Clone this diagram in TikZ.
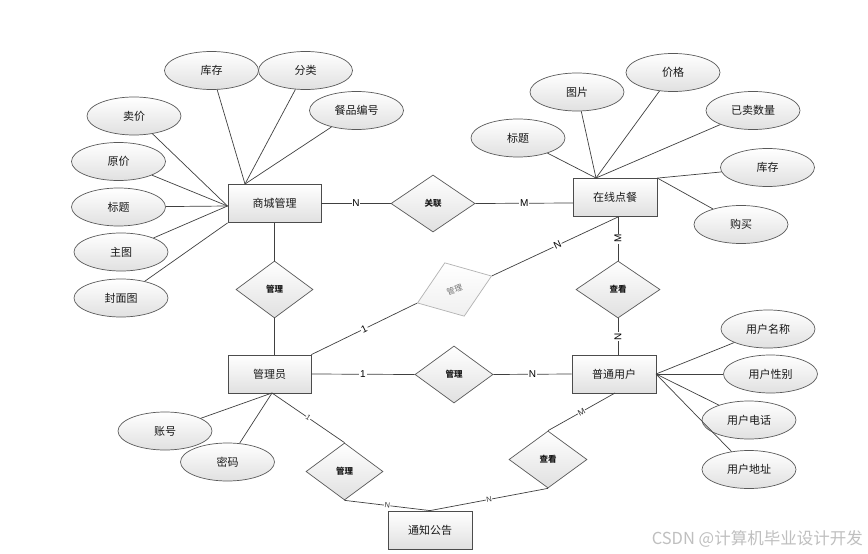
\documentclass[tikz,border=0pt]{standalone}
\usepackage{fontspec}
\setmainfont{Noto Sans CJK SC}
\newfontfamily\latinf{Liberation Sans}
\usetikzlibrary{shapes.geometric}
\begin{document}
\begin{tikzpicture}[x=1pt,y=-1pt,
 ent/.style={rectangle,draw=black!70,line width=0.8pt,top color=white,bottom color=black!12,minimum width=84pt,minimum height=38pt,inner sep=0pt,text=black!90,font=\fontsize{11}{13}\selectfont},
 attr/.style={ellipse,draw=black!65,line width=0.7pt,top color=white,bottom color=black!12,minimum width=94pt,minimum height=38pt,inner sep=0pt,text=black!90,font=\fontsize{11}{13}\selectfont},
 rel/.style={diamond,draw=black!65,line width=0.7pt,top color=white,bottom color=black!12,minimum width=78pt,minimum height=57pt,inner sep=0pt,text=black!90,font=\fontsize{8.5}{10}\selectfont\bfseries},
 grayrel/.style={rel,draw=black!30,text=black!55,top color=white,bottom color=black!6,font=\fontsize{8}{9}\selectfont},
 conn/.style={draw=black!75,line width=0.7pt},
 card/.style={fill=white,inner sep=0.8pt,text=black,font=\latinf\fontsize{10}{11}\selectfont},
 cards/.style={fill=white,inner sep=0.4pt,text=black!80,font=\latinf\fontsize{7.5}{8}\selectfont},
]
\useasboundingbox (0,0) rectangle (868,554);
\fill[white] (0,0) rectangle (868,554);

% entities
\node[ent,minimum width=93pt] (sc) at (274.5,203.5) {商城管理};
\node[ent] (zx) at (615,197.5) {在线点餐};
\node[ent,minimum width=83pt] (gly) at (269.5,374) {管理员};
\node[ent] (pt) at (614,374) {普通用户};
\node[ent] (tz) at (430,530) {通知公告};

% relationships
\node[rel,minimum width=84pt] (gx) at (433,203.5) {关联};
\node[rel,minimum width=77pt] (gl1) at (274.5,289.5) {管理};
\node[grayrel,minimum width=79pt,rotate=20] (glg) at (454.5,289.5) {管理};
\node[rel] (gl2) at (454,374.5) {管理};
\node[rel,minimum width=77pt] (gl3) at (344.5,471.5) {管理};
\node[rel,minimum width=84pt] (ck1) at (618,289.5) {查看};
\node[rel] (ck2) at (548,459.5) {查看};

% attributes of 商城管理
\node[attr] (kc1) at (211.5,70.5) {库存};
\node[attr] (fl) at (305.5,70.5) {分类};
\node[attr] (cp) at (356.5,110.5) {餐品编号};
\node[attr] (mj) at (134,116) {卖价};
\node[attr] (yj) at (118.5,161.5) {原价};
\node[attr] (bt1) at (118.5,207) {标题};
\node[attr] (zt) at (121,252) {主图};
\node[attr] (fmt) at (121,298) {封面图};

% attributes of 在线点餐
\node[attr] (tp) at (577,92) {图片};
\node[attr] (jg) at (673,72.5) {价格};
\node[attr] (ym) at (753,110.5) {已卖数量};
\node[attr] (bt2) at (518,138) {标题};
\node[attr] (kc2) at (767.5,167.5) {库存};
\node[attr] (gm) at (741,224.5) {购买};

% attributes of 管理员
\node[attr] (zh) at (165,431) {账号};
\node[attr] (mm) at (227.5,462) {密码};

% attributes of 普通用户
\node[attr] (yhmc) at (768,329) {用户名称};
\node[attr] (yhxb) at (770.5,374) {用户性别};
\node[attr] (yhdh) at (749,420) {用户电话};
\node[attr] (yhdz) at (749,469.5) {用户地址};

% connection points
\coordinate (scL) at (227.5,206);
\coordinate (scT) at (245,184);
\coordinate (zxT) at (596,178);
\coordinate (zxW) at (573,203);
\coordinate (zxB) at (618,217);
\coordinate (ptT) at (618,355);
\coordinate (ptB) at (615,393);
\coordinate (ptR) at (656,374);
\coordinate (glyT) at (274.5,355);
\coordinate (glyB) at (272,393);

% attribute lines
\draw[conn] (mj) -- (scL);
\draw[conn] (yj) -- (scL);
\draw[conn] (bt1) -- (scL);
\draw[conn] (zt) -- (scL);
\draw[conn] (fmt) -- (sc.south west);
\draw[conn] (kc1) -- (scT);
\draw[conn] (fl) -- (scT);
\draw[conn] (cp) -- (scT);

\draw[conn] (bt2) -- (zxT);
\draw[conn] (tp) -- (zxT);
\draw[conn] (jg) -- (zxT);
\draw[conn] (ym) -- (zxT);
\draw[conn] (kc2) -- (zx.north east);
\draw[conn] (gm) -- (zx.north east);

\draw[conn] (glyB) -- (zh);
\draw[conn] (glyB) -- (mm);

\draw[conn] (ptR) -- (yhmc);
\draw[conn] (ptR) -- (yhxb);
\draw[conn] (ptR) -- (yhdh);
\draw[conn] (ptR) -- (yhdz);

% relationship lines
\draw[conn] (sc.east) -- node[card]{N} (gx.west);
\draw[conn] (gx.east) -- node[card]{M} (zxW);
\draw[conn] (zxB) -- node[card,rotate=90]{M} (ck1.north);
\draw[conn] (zxB) -- node[card,sloped,pos=0.48]{N} (glg.east);
\draw[conn] (ck1.south) -- node[card,rotate=90]{N} (ptT);
\draw[conn] (sc.south) -- (gl1.north);
\draw[conn] (gl1.south) -- (glyT);
\draw[conn] (gly.north east) -- node[card,sloped]{1} (glg.west);
\draw[conn] (gly.east) -- node[card]{1} (gl2.west);
\draw[conn] (gl2.east) -- node[card]{N} (pt.west);
\draw[conn] (glyB) -- node[cards,sloped]{1} (gl3.north);
\draw[conn] (gl3.south) -- node[cards,sloped]{N} (tz.north);
\draw[conn] (tz.north) -- node[cards,sloped]{N} (ck2.south);
\draw[conn] (ck2.north) -- node[cards,sloped,font=\latinf\fontsize{8.5}{9}\selectfont]{M} (ptB);

% watermark
\node[anchor=east,text=black!25,inner sep=0pt,font=\fontsize{16.5}{18}\selectfont] (wm) at (863,539) {CSDN @计算机毕业设计开发};
\end{tikzpicture}
\end{document}
